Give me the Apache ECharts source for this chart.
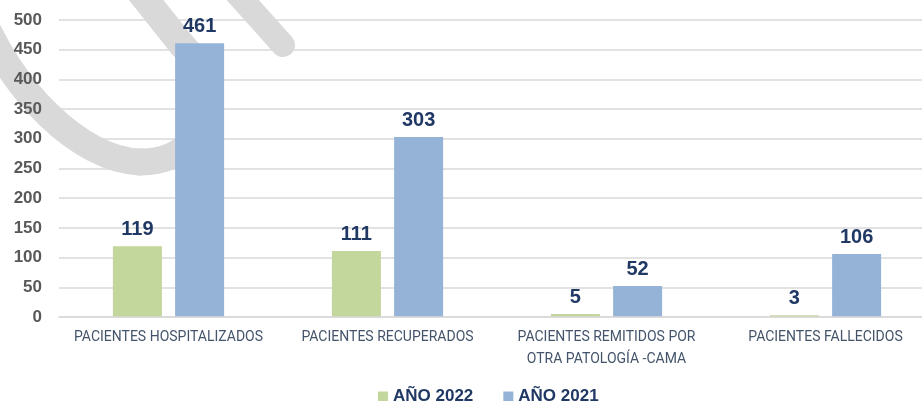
<!DOCTYPE html>
<html>
<head>
<meta charset="utf-8">
<script src="https://cdn.jsdelivr.net/npm/echarts@6/dist/echarts.min.js"></script>
<style>
  html, body { margin: 0; padding: 0; background: #fff; overflow: hidden; }
  /* plot area runs past the right edge in the original, so the canvas is a bit wider than the window */
  #chart { width: 940px; height: 401px; }
</style>
</head>
<body>
<div id="chart"></div>
<script>
(function () {
    'use strict';

    var categories = [
        'PACIENTES HOSPITALIZADOS',
        'PACIENTES RECUPERADOS',
        'PACIENTES REMITIDOS POR\nOTRA PATOLOGÍA -CAMA',
        'PACIENTES FALLECIDOS'
    ];
    var values2022 = [119, 111, 5, 3];
    var values2021 = [461, 303, 52, 106];

    var NAVY = '#203864';
    var GREEN = '#c3d69b';
    var BLUE = '#95b3d7';
    var GRID = '#d9d9d9';

    var chart = echarts.init(document.getElementById('chart'), null, { renderer: 'canvas' });

    /** Shared data-label style for both series. */
    function barLabel() {
        return {
            show: true,
            position: 'top',
            distance: 7,
            color: NAVY,
            fontFamily: 'Liberation Sans',
            fontWeight: 'bold',
            fontSize: 20
        };
    }

    /* -- faint grey watermark strokes: above grid lines, under bars and tick labels -- */
    var stroke = { fill: 'none', stroke: GRID, lineWidth: 27, lineCap: 'round', lineJoin: 'round' };
    function curve(p) {
        return {
            type: 'bezierCurve', z: 1, silent: true,
            shape: { x1: p[0], y1: p[1], cpx1: p[2], cpy1: p[3], cpx2: p[4], cpy2: p[5], x2: p[6], y2: p[7] },
            style: stroke
        };
    }

    var yBase = { type: 'value', min: 0, max: 500, interval: 50, axisLine: { show: false }, axisTick: { show: false } };

    chart.setOption({
        animation: false,
        grid: { left: 59, top: 20, right: 5, height: 297 },
        graphic: [
            curve([-22, 8, 10, 90, 80, 160, 140, 162]),
            curve([140, 162, 180, 163, 212, 132, 208, 100]),
            curve([208, 100, 206, 75, 195, 58, 182, 45]),
            {
                type: 'line', z: 1, silent: true,
                shape: { x1: 182, y1: 45, x2: 135, y2: -14 },
                style: stroke
            },
            {
                type: 'line', z: 1, silent: true,
                shape: { x1: 232, y1: -12, x2: 283, y2: 45 },
                style: { stroke: GRID, lineWidth: 24, lineCap: 'round' }
            }
        ],
        legend: {
            left: 373,
            top: 383,
            itemWidth: 10,
            itemHeight: 10,
            itemGap: 30,
            icon: 'rect',
            textStyle: { color: NAVY, fontFamily: 'Liberation Sans', fontWeight: 'bold', fontSize: 17 },
            data: ['AÑO 2022', 'AÑO 2021']
        },
        xAxis: {
            type: 'category',
            data: categories,
            z: 3,
            axisLine: { lineStyle: { color: GRID, width: 1.5 } },
            axisTick: { show: false },
            axisLabel: {
                color: '#44546a',
                fontFamily: 'Roboto',
                fontSize: 14,
                lineHeight: 22,
                margin: 9,
                interval: 0
            }
        },
        yAxis: [
            // grid lines only, drawn beneath the watermark
            Object.assign({}, yBase, {
                z: 0,
                axisLabel: { show: false },
                splitLine: { lineStyle: { color: GRID, width: 1.5 } }
            }),
            // tick labels only, drawn above it
            Object.assign({}, yBase, {
                z: 3,
                position: 'left',
                splitLine: { show: false },
                axisLabel: {
                    color: '#595959',
                    fontFamily: 'Liberation Sans',
                    fontWeight: 'bold',
                    fontSize: 17,
                    margin: 17
                }
            })
        ],
        series: [
            {
                name: 'AÑO 2022',
                type: 'bar',
                data: values2022,
                barWidth: 49,
                barGap: '27%',
                itemStyle: { color: GREEN },
                label: barLabel()
            },
            {
                name: 'AÑO 2021',
                type: 'bar',
                data: values2021,
                barWidth: 49,
                barGap: '27%',
                itemStyle: { color: BLUE },
                label: barLabel()
            }
        ]
    });
})();
</script>
</body>
</html>
